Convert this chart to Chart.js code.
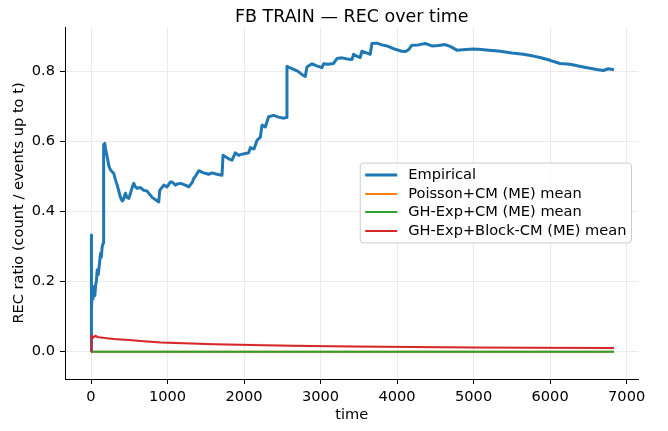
<!DOCTYPE html>
<html>
<head>
<meta charset="utf-8">
<script src="https://cdn.jsdelivr.net/npm/chart.js@4/dist/chart.umd.min.js"></script>
<style>
  html, body { margin: 0; padding: 0; background: #ffffff; }
  canvas { display: block; }
</style>
</head>
<body>
<canvas id="rec" width="668" height="431"></canvas>
<script>
// REC ratio over time, FB train split

const empiricalTime = [0, 3, 8, 15, 25, 35, 50, 60, 70, 81, 95, 110, 124, 135, 146, 160,
  165, 180, 189, 211, 233, 255, 298, 320, 342, 385, 407, 420, 450, 470, 494, 516, 540, 559,
  580, 603, 646, 690, 733, 799, 885, 898, 951, 994, 1038, 1060, 1103, 1125, 1168, 1234, 1277,
  1321, 1342, 1364, 1408, 1473, 1538, 1560, 1582, 1647, 1712, 1725, 1799, 1843, 1886, 1930,
  1952, 2017, 2060, 2082, 2130, 2170, 2213, 2235, 2278, 2321, 2387, 2450, 2520, 2552, 2561,
  2626, 2700, 2760, 2800, 2822, 2888, 2950, 3018, 3040, 3100, 3170, 3214, 3280, 3350, 3410,
  3431, 3480, 3518, 3540, 3600, 3649, 3671, 3736, 3800, 3867, 3953, 4062, 4110, 4149, 4193,
  4280, 4367, 4454, 4540, 4628, 4700, 4781, 4900, 5000, 5100, 5200, 5350, 5500, 5650, 5780,
  5868, 6000, 6129, 6260, 6433, 6608, 6695, 6760, 6834];
const empiricalRec = [0, 0.333, 0.12, 0.17, 0.15, 0.185, 0.16, 0.19, 0.2, 0.233, 0.22, 0.25,
  0.28, 0.27, 0.30, 0.31, 0.59, 0.594, 0.58, 0.556, 0.53, 0.518, 0.508, 0.49, 0.475, 0.44,
  0.43, 0.432, 0.452, 0.44, 0.437, 0.452, 0.47, 0.48, 0.47, 0.466, 0.468, 0.46, 0.458, 0.44,
  0.427, 0.46, 0.475, 0.47, 0.484, 0.484, 0.475, 0.478, 0.48, 0.475, 0.47, 0.482, 0.494,
  0.50, 0.516, 0.51, 0.506, 0.508, 0.51, 0.506, 0.503, 0.56, 0.55, 0.546, 0.567, 0.56,
  0.562, 0.565, 0.567, 0.582, 0.578, 0.603, 0.612, 0.646, 0.641, 0.67, 0.674, 0.669, 0.666,
  0.668, 0.814, 0.807, 0.80, 0.79, 0.785, 0.812, 0.821, 0.815, 0.81, 0.821, 0.82, 0.822,
  0.836, 0.838, 0.835, 0.833, 0.848, 0.842, 0.839, 0.857, 0.852, 0.848, 0.879, 0.88, 0.875,
  0.872, 0.864, 0.857, 0.856, 0.861, 0.874, 0.875, 0.879, 0.872, 0.873, 0.876, 0.87, 0.86,
  0.862, 0.863, 0.862, 0.86, 0.857, 0.852, 0.848, 0.843, 0.839, 0.831, 0.822, 0.82, 0.812,
  0.805, 0.802, 0.807, 0.804];

const poissonTime = [0, 6834];
const poissonRec = [0, 0];

const ghExpTime = [0, 6834];
const ghExpRec = [0, 0];

const blockTime = [0, 4, 10, 20, 30, 45, 60, 80, 100, 150, 210, 300, 385, 500, 646, 777,
  907, 1200, 1600, 2082, 2600, 3388, 4200, 5000, 5800, 6834];
const blockRec = [0, 0.03, 0.047, 0.043, 0.040, 0.043, 0.045, 0.042, 0.041, 0.040, 0.038,
  0.036, 0.035, 0.033, 0.0305, 0.028, 0.026, 0.024, 0.021, 0.019, 0.017, 0.015, 0.013,
  0.012, 0.011, 0.0105];

// spread of the Block-CM mean
const blockBandTime = [0, 10, 60, 200, 600, 1500, 3000, 5000, 6834];
const blockBandLow = [0, 0.042, 0.041, 0.035, 0.029, 0.0215, 0.0165, 0.0105, 0.0085];
const blockBandHigh = [0, 0.052, 0.049, 0.041, 0.034, 0.0255, 0.0195, 0.0135, 0.0125];

const xTicks = [0, 1000, 2000, 3000, 4000, 5000, 6000, 7000];
const yTicks = [0.0, 0.2, 0.4, 0.6, 0.8];

const chartTitle = 'FB TRAIN — REC over time';
const seriesLabels = ['Empirical', 'Poisson+CM (ME) mean', 'GH-Exp+CM (ME) mean', 'GH-Exp+Block-CM (ME) mean'];
const seriesColors = ['#1f77b4', '#ff7f0e', '#2ca02c', '#d62728'];

const toPoints = (ts, vs) => ts.map((t, i) => ({ x: t, y: vs[i] }));

const FONT = '"DejaVu Sans", "Liberation Sans", sans-serif';
const TEXT_SIZE = 14.6;
const TITLE_SIZE = 17.5;

// title centred over the plot area
const axesTitle = {
  id: 'axesTitle',
  afterDraw(chart) {
    const ctx = chart.ctx, area = chart.chartArea;
    ctx.save();
    ctx.font = TITLE_SIZE + 'px ' + FONT;
    ctx.fillStyle = '#000000';
    ctx.textAlign = 'center';
    ctx.textBaseline = 'alphabetic';
    ctx.fillText(chartTitle, (area.left + area.right) / 2, 22);
    ctx.restore();
  }
};

// legend drawn inside the plot, right-centred, with a translucent rounded frame
const insetLegend = {
  id: 'insetLegend',
  afterDatasetsDraw(chart) {
    const ctx = chart.ctx;
    const area = chart.chartArea;
    const items = chart.data.datasets.filter(d => d.inLegend);
    ctx.save();
    ctx.font = TEXT_SIZE + 'px ' + FONT;
    const textW = Math.max(...items.map(d => ctx.measureText(d.label).width));
    const padL = 5, handle = 32, gap = 11, padR = 5, rowH = 18.8;
    const w = padL + handle + gap + textW + padR;
    const h = rowH * (items.length - 1) + 23.5;
    const right = area.right - 7;
    const left = right - w;
    const cy = (area.top + area.bottom) / 2;
    const top = cy - h / 2;
    const r = 3;
    ctx.beginPath();
    ctx.moveTo(left + r, top);
    ctx.lineTo(right - r, top);
    ctx.arcTo(right, top, right, top + r, r);
    ctx.lineTo(right, top + h - r);
    ctx.arcTo(right, top + h, right - r, top + h, r);
    ctx.lineTo(left + r, top + h);
    ctx.arcTo(left, top + h, left, top + h - r, r);
    ctx.lineTo(left, top + r);
    ctx.arcTo(left, top, left + r, top, r);
    ctx.closePath();
    ctx.fillStyle = 'rgba(255,255,255,0.8)';
    ctx.fill();
    ctx.strokeStyle = '#cccccc';
    ctx.lineWidth = 1;
    ctx.stroke();
    items.forEach((d, i) => {
      const y = Math.round(cy + (i - (items.length - 1) / 2) * rowH);
      ctx.beginPath();
      ctx.strokeStyle = d.borderColor;
      ctx.lineWidth = d.borderWidth;
      ctx.moveTo(left + padL, y);
      ctx.lineTo(left + padL + handle, y);
      ctx.stroke();
      ctx.fillStyle = '#000000';
      ctx.textAlign = 'left';
      ctx.textBaseline = 'middle';
      ctx.fillText(d.label, left + padL + handle + gap, y + 0.5);
    });
    ctx.restore();
  }
};

const lineStyle = {
  pointRadius: 0,
  pointHoverRadius: 0,
  tension: 0,
  fill: false,
  borderJoinStyle: 'round',
  borderCapStyle: 'butt'
};

new Chart(document.getElementById('rec'), {
  type: 'line',
  data: {
    datasets: [
      Object.assign({}, lineStyle, {
        label: seriesLabels[0], inLegend: true,
        data: toPoints(empiricalTime, empiricalRec),
        borderColor: seriesColors[0], borderWidth: 3, order: 5
      }),
      Object.assign({}, lineStyle, {
        label: seriesLabels[1], inLegend: true,
        data: toPoints(poissonTime, poissonRec),
        borderColor: seriesColors[1], borderWidth: 2, order: 4
      }),
      Object.assign({}, lineStyle, {
        label: seriesLabels[2], inLegend: true,
        data: toPoints(ghExpTime, ghExpRec),
        borderColor: seriesColors[2], borderWidth: 2, order: 3
      }),
      Object.assign({}, lineStyle, {
        label: 'Block-CM spread high', inLegend: false,
        data: toPoints(blockBandTime, blockBandHigh),
        borderColor: 'rgba(0,0,0,0)', borderWidth: 0,
        backgroundColor: 'rgba(214,39,40,0.13)', fill: '+1', order: 2
      }),
      Object.assign({}, lineStyle, {
        label: 'Block-CM spread low', inLegend: false,
        data: toPoints(blockBandTime, blockBandLow),
        borderColor: 'rgba(0,0,0,0)', borderWidth: 0, order: 2
      }),
      Object.assign({}, lineStyle, {
        label: seriesLabels[3], inLegend: true,
        data: toPoints(blockTime, blockRec),
        borderColor: seriesColors[3], borderWidth: 2, order: 1
      })
    ]
  },
  options: {
    responsive: false,
    animation: false,
    devicePixelRatio: 1,
    layout: { padding: { left: 0, right: 29.5, top: 27, bottom: 0 } },
    plugins: {
      legend: { display: false },
      tooltip: { enabled: false },
      title: { display: false }
    },
    scales: {
      x: {
        type: 'linear',
        min: -340,
        max: 7155,
        afterBuildTicks: s => { s.ticks = xTicks.map(v => ({ value: v })); },
        afterFit: s => { s.height = 52; },
        ticks: {
          color: '#000000',
          font: { family: FONT, size: TEXT_SIZE },
          padding: 4,
          maxRotation: 0,
          callback: v => String(v)
        },
        grid: { color: '#ebebeb', lineWidth: 1, tickColor: '#000000', tickLength: 5, tickWidth: 1 },
        border: { display: true, color: '#000000', width: 1 },
        title: {
          display: true, text: 'time', color: '#000000',
          font: { family: FONT, size: TEXT_SIZE },
          padding: { top: 0, bottom: 7 }
        }
      },
      y: {
        type: 'linear',
        min: -0.078,
        max: 0.926,
        afterBuildTicks: s => { s.ticks = yTicks.map(v => ({ value: v })); },
        afterFit: s => { s.width = 65; },
        ticks: {
          color: '#000000',
          font: { family: FONT, size: TEXT_SIZE },
          padding: 5,
          callback: v => v.toFixed(1)
        },
        grid: { color: '#ebebeb', lineWidth: 1, tickColor: '#000000', tickLength: 5, tickWidth: 1 },
        border: { display: true, color: '#000000', width: 1 },
        title: {
          display: true, text: 'REC ratio (count / events up to t)', color: '#000000',
          font: { family: FONT, size: TEXT_SIZE },
          padding: { top: 10, bottom: 0 }
        }
      }
    }
  },
  plugins: [insetLegend, axesTitle]
});
</script>
</body>
</html>
